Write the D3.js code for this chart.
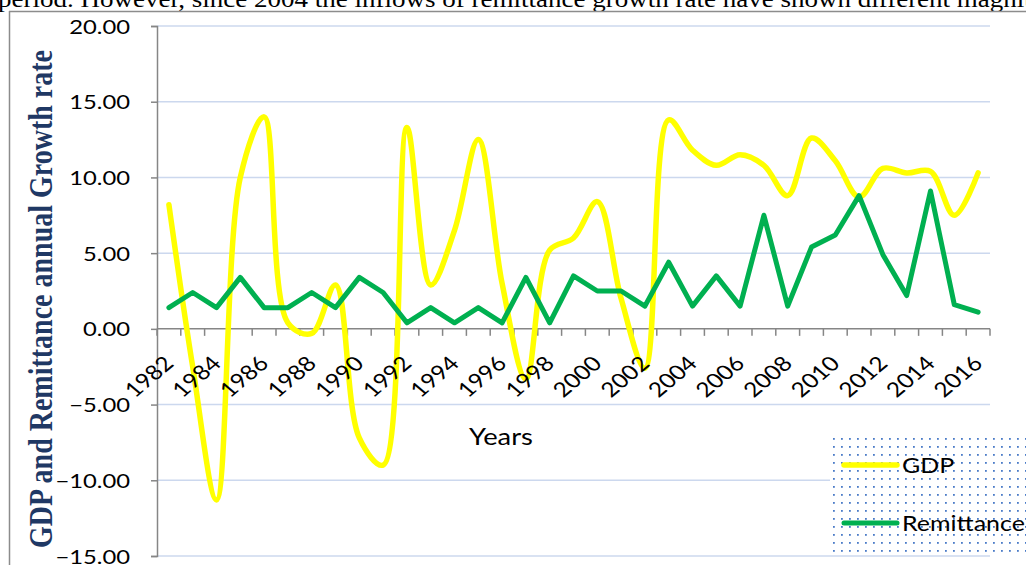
<!DOCTYPE html>
<html>
<head>
<meta charset="utf-8">
<script src="https://cdn.jsdelivr.net/npm/d3@7"></script>
<style>
  html, body { margin: 0; padding: 0; background: #fff; overflow: hidden; }
  svg { display: block; }
</style>
</head>
<body>
<svg id="chart" width="1026" height="565"></svg>
<script>
const years = [1982,1983,1984,1985,1986,1987,1988,1989,1990,1991,1992,1993,1994,1995,1996,1997,1998,1999,2000,2001,2002,2003,2004,2005,2006,2007,2008,2009,2010,2011,2012,2013,2014,2015,2016];
const gdp = [8.2,-2.5,-11.3,10.0,14.0,0.4,-0.3,2.9,-7.2,-9.0,13.3,2.9,6.5,12.5,3.0,-3.3,5.2,6.0,8.4,2.0,-2.6,13.8,11.8,10.8,11.5,10.8,8.8,12.6,11.1,8.7,10.6,10.3,10.4,7.5,10.3];
const remittance = [1.4,2.4,1.4,3.4,1.4,1.4,2.4,1.4,3.4,2.4,0.4,1.4,0.4,1.4,0.4,3.4,0.4,3.5,2.5,2.5,1.5,4.4,1.5,3.5,1.5,7.5,1.5,5.4,6.2,8.8,4.9,2.2,9.1,1.6,1.1];
const yTicks = [-15,-10,-5,0,5,10,15,20];
const xLabelYears = years.filter(y => (y - 1982) % 2 === 0);
const seriesNames = ["GDP", "Remittance"];
const seriesColors = ["#FFFF00", "#00B050"];
const seriesWidths = [5.5, 5];
const yTitle = "GDP and Remittance annual Growth rate";
const xTitle = "Years";
const topText = "period. However, since 2004 the inflows of remittance growth rate have shown different magnitudes";

const SX = 1.19;              // horizontal stretch of the original picture
const sans = "Lato, 'Open Sans', sans-serif";
const svg = d3.select("#chart");

// page fragment: cut body text + frame
svg.append("text")
  .attr("transform", `translate(-2,6.5) scale(${SX},1)`)
  .attr("font-family", "'Liberation Serif', 'Times New Roman', serif")
  .attr("font-size", 22.7).attr("fill", "#000")
  .text(topText);
svg.append("line").attr("x1", 9).attr("x2", 1026).attr("y1", 11.5).attr("y2", 11.5)
  .attr("stroke", "#8c8c8c").attr("stroke-width", 1.5);
svg.append("line").attr("x1", 9.5).attr("x2", 9.5).attr("y1", 11).attr("y2", 565)
  .attr("stroke", "#8c8c8c").attr("stroke-width", 1.5);

const x = d3.scaleBand().domain(years).range([157, 990]);
const y = d3.scaleLinear().domain([-15, 20]).range([556, 26]);
const cx = d => x(d) + x.bandwidth() / 2;

// gridlines
svg.append("g").selectAll("line").data(yTicks.filter(t => t !== 0)).join("line")
  .attr("x1", 157).attr("x2", 990)
  .attr("y1", d => y(d)).attr("y2", d => y(d))
  .attr("stroke", "#CCD8EE").attr("stroke-width", 1.5);

// y axis
const yAxis = svg.append("g").attr("transform", "translate(157,0)")
  .call(d3.axisLeft(y).tickValues(yTicks).tickFormat(d3.format(".2f")).tickSize(6));
yAxis.select(".domain").attr("stroke", "#868686").attr("stroke-width", 1.5);
yAxis.selectAll(".tick line").attr("stroke", "#868686").attr("stroke-width", 1.5);
yAxis.selectAll(".tick text")
  .attr("x", null).attr("dy", null)
  .attr("transform", `translate(-27,7) scale(${SX},1)`)
  .attr("text-anchor", "end")
  .attr("font-family", sans).attr("font-size", 20).attr("fill", "#000");

// x axis at zero
const xa = svg.append("g");
xa.append("line").attr("x1", 157).attr("x2", 990).attr("y1", y(0)).attr("y2", y(0))
  .attr("stroke", "#868686").attr("stroke-width", 1.5);
const bounds = years.map(d => x(d)).concat([x.range()[1]]);
xa.selectAll("line.tk").data(bounds).join("line").attr("class", "tk")
  .attr("x1", d => d).attr("x2", d => d).attr("y1", y(0)).attr("y2", y(0) + 7)
  .attr("stroke", "#868686").attr("stroke-width", 1.5);

// axis titles
svg.append("text")
  .attr("transform", `translate(501,445) scale(${SX},1)`)
  .attr("text-anchor", "middle")
  .attr("font-family", sans).attr("font-size", 23).attr("fill", "#000")
  .text(xTitle);
svg.append("text")
  .attr("transform", `translate(52,299) scale(${SX},1) rotate(-90)`)
  .attr("text-anchor", "middle")
  .attr("font-family", "'Liberation Serif', 'Times New Roman', serif")
  .attr("font-weight", "bold").attr("font-size", 28).attr("fill", "#1F3864")
  .text(yTitle);

// series
const smooth = d3.line().x((d, i) => cx(years[i])).y(d => y(d)).curve(d3.curveCatmullRom.alpha(0.5));
const straight = d3.line().x((d, i) => cx(years[i])).y(d => y(d));
svg.append("path").datum(gdp).attr("d", smooth)
  .attr("fill", "none").attr("stroke", seriesColors[0]).attr("stroke-width", seriesWidths[0])
  .attr("stroke-linejoin", "round").attr("stroke-linecap", "round");
svg.append("path").datum(remittance).attr("d", straight)
  .attr("fill", "none").attr("stroke", seriesColors[1]).attr("stroke-width", seriesWidths[1])
  .attr("stroke-linejoin", "round").attr("stroke-linecap", "round");

// x tick labels drawn above the series, as in the reference
svg.append("g").selectAll("text").data(xLabelYears).join("text")
  .attr("transform", d => `translate(${cx(d) + 6},${y(0) + 36}) scale(${SX},1) rotate(-45)`)
  .attr("text-anchor", "end")
  .attr("font-family", sans).attr("font-size", 20.5).attr("fill", "#000")
  .text(d => d);

// legend
const defs = svg.append("defs");
const pat = defs.append("pattern").attr("id", "dots").attr("patternUnits", "userSpaceOnUse")
  .attr("width", 8).attr("height", 8).attr("x", 830).attr("y", 435);
pat.append("rect").attr("width", 8).attr("height", 8).attr("fill", "#fff");
pat.append("rect").attr("x", 3).attr("y", 3).attr("width", 1.8).attr("height", 1.8).attr("fill", "#4A7BC8");
svg.append("rect").attr("x", 830).attr("y", 435).attr("width", 200).attr("height", 118)
  .attr("fill", "url(#dots)");
const lg = svg.append("g").selectAll("g").data(seriesNames).join("g")
  .attr("transform", (d, i) => `translate(0,${465 + i * 58})`);
lg.append("line").attr("x1", 844).attr("x2", 897).attr("y1", 0).attr("y2", 0)
  .attr("stroke", (d, i) => seriesColors[i]).attr("stroke-width", (d, i) => seriesWidths[i])
  .attr("stroke-linecap", "round");
lg.append("text").attr("transform", `translate(902,8) scale(${SX},1)`)
  .attr("font-family", sans).attr("font-size", 21).attr("fill", "#000")
  .text(d => d);
</script>
</body>
</html>
